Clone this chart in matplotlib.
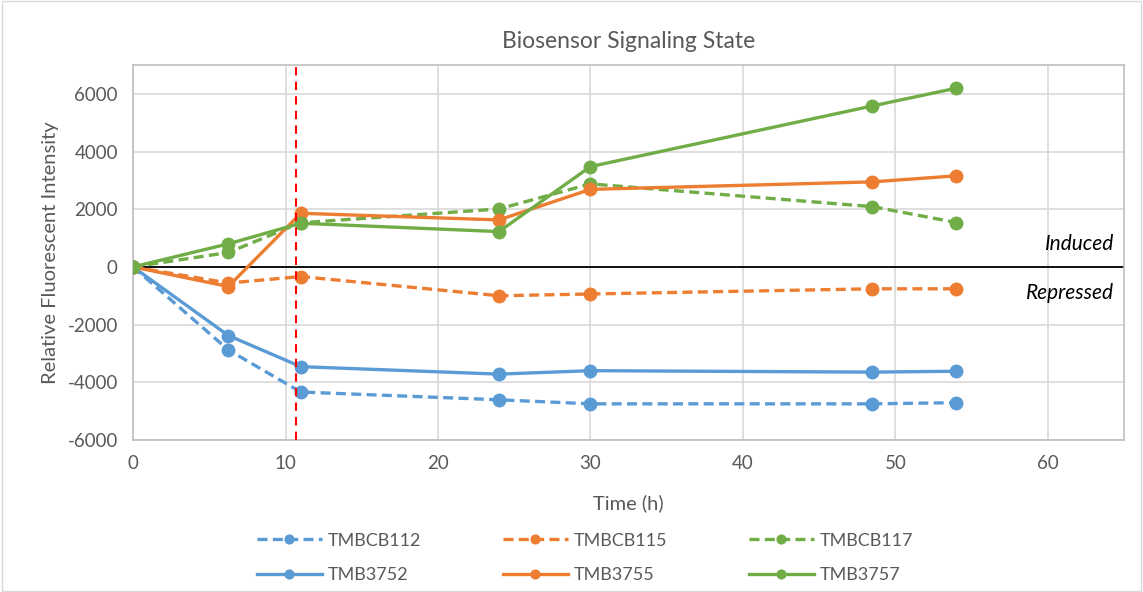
import matplotlib.pyplot as plt
from matplotlib.patches import Rectangle

# data
time_h = [0, 6.25, 11, 24, 30, 48.5, 54]
tmbcb112 = [0, -2880, -4340, -4610, -4750, -4750, -4710]
tmbcb115 = [0, -560, -335, -1000, -940, -760, -760]
tmbcb117 = [0, 500, 1530, 2010, 2880, 2090, 1540]
tmb3752 = [0, -2380, -3460, -3720, -3600, -3650, -3620]
tmb3755 = [0, -680, 1860, 1630, 2690, 2950, 3160]
tmb3757 = [0, 800, 1515, 1225, 3480, 5585, 6200]
induction_time = 10.7

series = [
    ("TMBCB112", tmbcb112, "#5B9BD5", "--"),
    ("TMBCB115", tmbcb115, "#ED7D31", "--"),
    ("TMBCB117", tmbcb117, "#70AD47", "--"),
    ("TMB3752", tmb3752, "#5B9BD5", "-"),
    ("TMB3755", tmb3755, "#ED7D31", "-"),
    ("TMB3757", tmb3757, "#70AD47", "-"),
]

plt.rcParams['font.family'] = ['Lato', 'DejaVu Sans']
plt.rcParams['axes.unicode_minus'] = False

fig = plt.figure(figsize=(11.43, 5.92), dpi=100)
ax = fig.add_axes([0.1164, 0.257, 0.867, 0.633])

lines = {}
for name, vals, col, ls in series:
    ln, = ax.plot(time_h, vals, linestyle=ls, color=col, lw=2.4,
                  marker='o', markersize=9, label=name, zorder=3)
    if ls == "--":
        ln.set_dashes([3, 1.6])
    lines[name] = ln

ax.axhline(0, color='black', lw=1.3, zorder=2)
ax.axvline(induction_time, color='red', lw=1.5, linestyle=(0, (4, 3)), zorder=4)

ax.set_xlim(0, 65)
ax.set_ylim(-6000, 7000)
ax.set_xticks(range(0, 70, 10))
ax.set_yticks(range(-6000, 7000, 2000))
ax.grid(True, color='#D9D9D9', lw=1.2, zorder=0)
ax.set_axisbelow(True)
for s in ax.spines.values():
    s.set_color('#BFBFBF')
    s.set_linewidth(1.2)
ax.tick_params(length=0, labelsize=13.5, colors='#595959', pad=11)

ax.set_title("Biosensor Signaling State", fontsize=16.5, color='#595959', pad=12)
ax.set_xlabel("Time (h)", fontsize=14.5, color='#595959', labelpad=16)
ax.set_ylabel("Relative Fluorescent Intensity", fontsize=14.5, color='#595959', labelpad=6)

ax.text(0.99, 0.522, "Induced", transform=ax.transAxes,
        ha='right', va='center', style='italic', fontsize=15)
ax.text(0.99, 0.392, "Repressed", transform=ax.transAxes,
        ha='right', va='center', style='italic', fontsize=15)

order = ["TMBCB112", "TMB3752", "TMBCB115", "TMB3755", "TMBCB117", "TMB3757"]
fig.legend([lines[n] for n in order], order, loc='lower center', ncol=3,
           bbox_to_anchor=(0.512, -0.012), frameon=False, fontsize=13,
           handlelength=3.6, handletextpad=0.35, columnspacing=4.5, labelspacing=1.0,
           markerscale=0.7, labelcolor='#595959')

fig.patches.append(Rectangle((0.002, 0.002), 0.996, 0.996, transform=fig.transFigure,
                             fill=False, edgecolor='#D9D9D9', lw=1))

fig.savefig("out.png", dpi=100)
